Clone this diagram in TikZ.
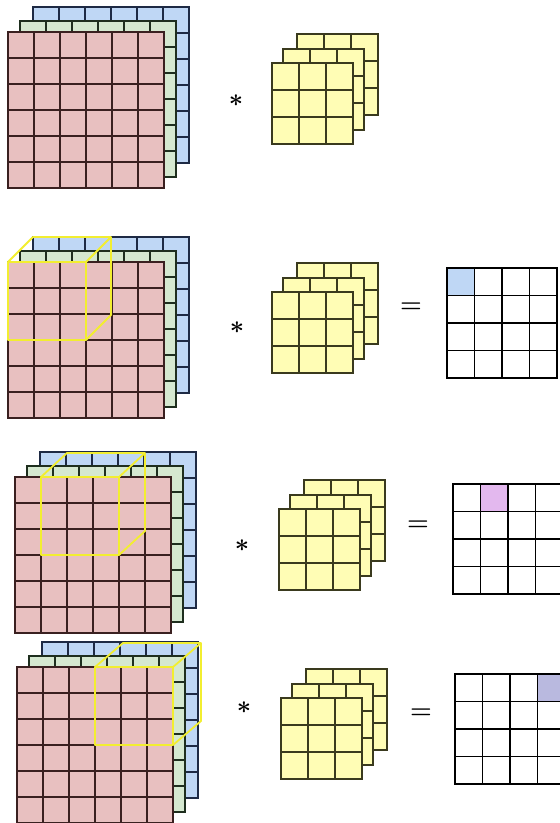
\documentclass[tikz,border=0pt]{standalone}
\usepackage{bm}
\definecolor{redf}{HTML}{E8C0C0}
\definecolor{redl}{HTML}{3A2020}
\definecolor{greenf}{HTML}{D5E8D0}
\definecolor{greenl}{HTML}{1E2E1E}
\definecolor{bluef}{HTML}{BFD7F5}
\definecolor{bluel}{HTML}{1E2A44}
\definecolor{yelf}{HTML}{FFFDB5}
\definecolor{yell}{HTML}{3A3A1E}
\definecolor{cubec}{HTML}{F2EE30}
\definecolor{pinkf}{HTML}{E3B8EE}
\definecolor{lavf}{HTML}{B9B9DF}
\tikzset{
  gline/.style={line width=1.2pt,line cap=rect},
  cubeline/.style={draw=cubec,line width=1.8pt,line join=round},
  opsign/.style={inner sep=0pt,font=\fontsize{36}{36}\selectfont},
  eqsign/.style={inner sep=0pt,font=\fontsize{25}{25}\selectfont},
}
% x y n cell fill linecolor
\newcommand\gridlayer[6]{%
  \fill[#5] (#1,#2) rectangle ++({#3*#4},{#3*#4});
  \foreach \k in {0,...,#3}{%
    \draw[gline,#6] ({#1+\k*#4},#2) -- ++(0,{#3*#4});
    \draw[gline,#6] (#1,{#2+\k*#4}) -- ++({#3*#4},0);
  }}
% input volume: red top-left x y
\newcommand\volume[2]{%
  \gridlayer{#1+25}{#2-25}{6}{26}{bluef}{bluel}
  \gridlayer{#1+12}{#2-11}{6}{26}{greenf}{greenl}
  \gridlayer{#1}{#2}{6}{26}{redf}{redl}}
% kernel: front top-left x y
\newcommand\kernel[2]{%
  \gridlayer{#1+25}{#2-29}{3}{27}{yelf}{yell}
  \gridlayer{#1+11}{#2-14}{3}{27}{yelf}{yell}
  \gridlayer{#1}{#2}{3}{27}{yelf}{yell}}
% cube: front x y, size, back offset dx dy
\newcommand\cube[5]{%
  \draw[cubeline] (#1,#2) rectangle ++(#3,#3);
  \draw[cubeline] (#1,#2) -- ++(#4,#5) -- ++(#3,0) -- ++(0,#3) -- ++({-(#4)},{-(#5)});
  \draw[cubeline] ({#1+#3},#2) -- ++(#4,#5);}
% output 4x4: x y, highlighted column index, color
\newcommand\outgrid[4]{%
  \fill[#4] ({#1+#3*27.5},#2) rectangle ++(27.5,27.5);
  \foreach \k in {0,...,4}{%
    \draw[gline,black] ({#1+\k*27.5},#2) -- ++(0,110);
    \draw[gline,black] (#1,{#2+\k*27.5}) -- ++(110,0);
  }}
\begin{document}
\begin{tikzpicture}[x=1pt,y=-1pt]
\useasboundingbox (0,0) rectangle (560,823);
\clip (0,0) rectangle (560,823);
\fill[white] (0,0) rectangle (560,823);
% panel 1
\volume{8}{32}
\kernel{272}{63}
\node[opsign] (ast1) at (236,101) {$\bm{\ast}$};
% panel 2
\volume{8}{262}
\cube{8}{262}{78}{25}{-25}
\kernel{272}{292}
\node[opsign] (ast2) at (237,328) {$\bm{\ast}$};
\node[eqsign] (eq2) at (411,308) {$\bm{=}$};
\outgrid{447}{268}{0}{bluef}
% panel 3
\volume{15}{477}
\cube{41}{477}{78}{26}{-24}
\kernel{279}{509}
\node[opsign] (ast3) at (242,546) {$\bm{\ast}$};
\node[eqsign] (eq3) at (418,526) {$\bm{=}$};
\outgrid{453}{484}{1}{pinkf}
% panel 4
\volume{17}{667}
\cube{95}{667}{78}{28}{-24}
\kernel{281}{698}
\node[opsign] (ast4) at (244,708) {$\bm{\ast}$};
\node[eqsign] (eq4) at (421,714) {$\bm{=}$};
\outgrid{455}{674}{3}{lavf}
\end{tikzpicture}
\end{document}
